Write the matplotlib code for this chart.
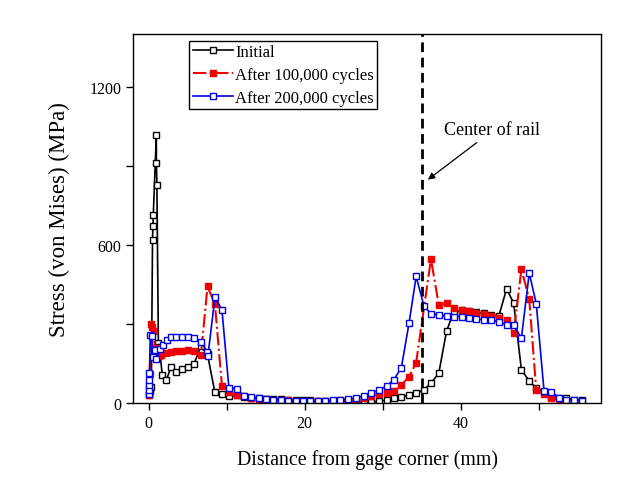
import matplotlib
matplotlib.use("Agg")
import matplotlib.pyplot as plt
from matplotlib.ticker import MultipleLocator

plt.rcParams['font.family'] = ['Liberation Serif', 'DejaVu Serif']

# ---- data ----
x_init = [0.0, 0.15, 0.35, 0.5, 0.55, 0.6, 0.99, 1.0, 1.06, 1.25, 1.35, 1.76, 2.27, 2.9, 3.54,
          4.27, 5.04, 5.8, 6.7, 7.55, 8.5, 9.4, 10.3, 11.3, 12.2, 13.15, 14.1, 15.05, 16.0,
          16.95, 17.9, 18.85, 19.8, 20.75, 21.7, 22.65, 23.6, 24.6, 25.6, 26.6, 27.6, 28.55,
          29.5, 30.5, 31.4, 32.4, 33.4, 34.3, 35.3, 36.2, 37.2, 38.2, 39.1, 40.2, 41.1, 42.0,
          43.0, 43.9, 44.9, 45.9, 46.8, 47.8, 48.8, 49.7, 50.7, 51.6, 52.6, 53.5, 54.6, 55.6]
y_init = [30, 45, 62, 619, 670, 714, 1018, 911, 828, 229, 214, 106, 87, 138, 119,
          129, 136, 147, 215, 184, 40, 34, 25, 30, 22, 20, 19, 17, 15,
          14, 13, 12, 11, 10, 9, 8, 7, 6, 6, 5, 5, 5,
          6, 11, 20, 24, 30, 37, 50, 75, 113, 273, 344, 351, 350, 345,
          340, 334, 330, 433, 379, 125, 84, 56, 43, 24, 20, 18, 12, 10]

x_100k = [0.0, 0.05, 0.15, 0.35, 0.47, 0.64, 0.8, 1.0, 1.3, 1.6, 2.27, 2.9, 3.54, 4.27, 5.04,
          5.8, 6.7, 7.55, 8.5, 9.4, 10.3, 11.3, 12.2, 13.15, 14.1, 15.05, 16.0, 16.95, 17.9,
          18.85, 19.8, 20.75, 21.7, 22.65, 23.6, 24.6, 25.6, 26.6, 27.6, 28.55, 29.5, 30.5,
          31.4, 32.4, 33.4, 34.3, 36.2, 37.2, 38.2, 39.1, 40.2, 41.1, 42.0, 43.0, 43.9, 44.9,
          45.9, 46.8, 47.8, 48.8, 49.7, 50.7, 51.6, 52.6, 53.5, 54.6]
y_100k = [30, 60, 110, 300, 290, 275, 210, 185, 180, 182, 188, 192, 197, 199, 200,
          199, 182, 442, 375, 65, 43, 30, 25, 20, 17, 15, 13, 11, 10,
          9, 8, 7, 6, 6, 7, 10, 13, 16, 20, 27, 33, 37,
          47, 68, 100, 153, 546, 372, 378, 360, 353, 349, 343, 337, 330, 322,
          313, 266, 508, 394, 48, 35, 20, 12, 5, 3]

x_200k = [0.0, 0.0, 0.03, 0.05, 0.1, 0.22, 0.42, 0.55, 0.77, 0.99, 1.41, 1.83, 2.4, 2.9, 3.54,
          4.27, 5.04, 5.8, 6.7, 7.5, 7.6, 8.5, 9.4, 10.3, 11.3, 12.2, 13.15, 14.1, 15.05,
          16.0, 16.95, 17.9, 18.85, 19.8, 20.75, 21.7, 22.65, 23.6, 24.6, 25.6, 26.6, 27.6,
          28.55, 29.5, 30.5, 31.4, 32.4, 33.4, 34.3, 35.3, 36.2, 37.2, 38.2, 39.1, 40.2, 41.1,
          42.0, 43.0, 43.9, 44.9, 45.9, 46.8, 47.8, 48.8, 49.7, 50.7, 51.6, 52.6, 53.5, 54.6, 55.6]
y_200k = [33, 49, 68, 87, 114, 258, 254, 173, 201, 166, 204, 220, 239, 249, 252,
          252, 252, 246, 233, 195, 178, 401, 353, 56, 55, 27, 22, 18, 14,
          11, 10, 9, 9, 8, 8, 8, 9, 10, 12, 15, 20, 27,
          37, 49, 64, 87, 133, 305, 480, 368, 339, 334, 330, 328, 328, 324,
          319, 315, 313, 309, 296, 294, 247, 493, 377, 45, 43, 20, 13, 10, 8]

labels = ["Initial", "After 100,000 cycles", "After 200,000 cycles"]
center_x = 35

fig = plt.figure(figsize=(6.38, 4.85), dpi=100)
ax = fig.add_axes([0.2085, 0.167, 0.7335, 0.761])

ms = 4.2
red = '#f00000'
blue = '#0000e6'
ax.plot(x_init, y_init, '-', color='black', lw=1.2, marker='s', ms=ms,
        mfc='white', mec='black', mew=1.0, label=labels[0])
ax.plot(x_100k, y_100k, '-.', color=red, lw=1.5, marker='s', ms=ms,
        mfc=red, mec=red, mew=1.0, label=labels[1])
ax.plot(x_200k, y_200k, '-', color=blue, lw=1.2, marker='s', ms=ms,
        mfc='white', mec=blue, mew=1.0, label=labels[2])

ax.axvline(center_x, color='black', lw=2.0, ls=(0, (3.5, 2)), zorder=5)
ax.annotate("Center of rail", xy=(35.8, 847), xytext=(37.9, 1037),
            fontsize=13, va='center', ha='left',
            arrowprops=dict(arrowstyle='-|>', color='black', lw=0.9,
                            mutation_scale=10, shrinkA=2, shrinkB=0,
                            relpos=(0.4, 0.0)))

ax.set_xlim(-2, 58)
ax.set_ylim(0, 1400)
ax.xaxis.set_major_locator(MultipleLocator(20))
ax.xaxis.set_minor_locator(MultipleLocator(10))
ax.yaxis.set_major_locator(MultipleLocator(600))
ax.yaxis.set_minor_locator(MultipleLocator(300))
ax.tick_params(which='major', direction='out', length=5, width=1, labelsize=11.5)
ax.tick_params(which='minor', direction='out', length=5, width=1)
for s in ax.spines.values():
    s.set_linewidth(1.0)

ax.set_xlabel("Distance from gage corner (mm)", fontsize=14.3, labelpad=13)
ax.set_ylabel("Stress (von Mises) (MPa)", fontsize=16.5, labelpad=14)

leg = ax.legend(loc='upper left', bbox_to_anchor=(0.12, 0.982), fontsize=12.0,
                numpoints=1, handlelength=2.4, handletextpad=0.15,
                borderpad=0.2, labelspacing=0.42, borderaxespad=0.0,
                fancybox=False, framealpha=1, edgecolor='black')
leg.get_frame().set_linewidth(1.0)

fig.savefig("out.png", dpi=100)
